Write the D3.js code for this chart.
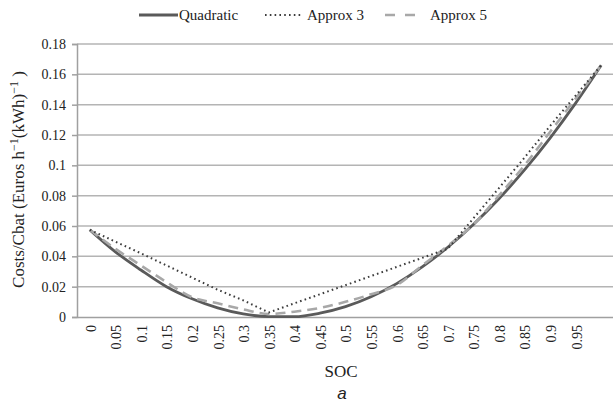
<!DOCTYPE html>
<html>
<head>
<meta charset="utf-8">
<script src="https://cdn.jsdelivr.net/npm/d3@7"></script>
<style>
  html, body { margin: 0; padding: 0; background: #fff; }
  svg { display: block; }
</style>
</head>
<body>
<svg id="chart" width="613" height="405"></svg>
<script>
// SOC categories (last one has no printed label)
const soc = [0, 0.05, 0.1, 0.15, 0.2, 0.25, 0.3, 0.35, 0.4, 0.45, 0.5,
  0.55, 0.6, 0.65, 0.7, 0.75, 0.8, 0.85, 0.9, 0.95, 1];
const socLabels = ["0", "0.05", "0.1", "0.15", "0.2", "0.25", "0.3", "0.35", "0.4", "0.45", "0.5",
  "0.55", "0.6", "0.65", "0.7", "0.75", "0.8", "0.85", "0.9", "0.95", ""];

const quadratic = [0.0575, 0.043, 0.031, 0.020, 0.012, 0.006, 0.002, 0.0003, 0.0002, 0.0025, 0.0068,
  0.0133, 0.0220, 0.033, 0.046, 0.061, 0.078, 0.097, 0.118, 0.141, 0.166];
const approx3 = [0.0575, 0.0497, 0.042, 0.034, 0.026, 0.018, 0.011, 0.003, 0.009, 0.015, 0.021,
  0.027, 0.033, 0.039, 0.045, 0.065, 0.085, 0.105, 0.126, 0.146, 0.166];
const approx5 = [0.0575, 0.045, 0.034, 0.023, 0.013, 0.009, 0.005, 0.002, 0.0035, 0.006, 0.010,
  0.015, 0.021, 0.034, 0.047, 0.061, 0.080, 0.100, 0.122, 0.144, 0.166];

const yTicks = [0, 0.02, 0.04, 0.06, 0.08, 0.1, 0.12, 0.14, 0.16, 0.18];

const series = [
  {name: "Quadratic", values: quadratic, color: "#5a5a5a", width: 2.8, dash: null, curve: d3.curveMonotoneX},
  {name: "Approx 3", values: approx3, color: "#3c3c3c", width: 2, dash: "1.6,3.2", curve: d3.curveLinear},
  {name: "Approx 5", values: approx5, color: "#a8a8a8", width: 2.6, dash: "10,6", curve: d3.curveMonotoneX}
];

const svg = d3.select("#chart");
const margin = {left: 77, right: 0, top: 44, bottom: 88};
const width = 614 - margin.left;
const height = 317 - margin.top;

const x = d3.scaleBand().domain(soc).range([margin.left, margin.left + width]);
const y = d3.scaleLinear().domain([0, 0.18]).range([margin.top + height, margin.top]);
const cx = d => x(d) + x.bandwidth() / 2;

const serif = "'Liberation Serif', 'Times New Roman', serif";

// gridlines
svg.append("g")
  .selectAll("line")
  .data(yTicks.slice(1))
  .join("line")
  .attr("x1", margin.left)
  .attr("x2", margin.left + width)
  .attr("y1", d => y(d))
  .attr("y2", d => y(d))
  .attr("stroke", "#b4b4b4")
  .attr("stroke-width", 1.5);

// y axis
const yAxis = svg.append("g")
  .attr("transform", `translate(${margin.left},0)`)
  .call(d3.axisLeft(y).tickValues(yTicks).tickSize(5).tickPadding(6).tickFormat(d3.format("~g")));
yAxis.select(".domain").attr("stroke", "#a0a0a0").attr("stroke-width", 1.5);
yAxis.selectAll(".tick line").attr("stroke", "#a0a0a0").attr("stroke-width", 1.5);
yAxis.selectAll("text").attr("font-family", serif).attr("font-size", 14).attr("fill", "#222");

// x axis
const xAxis = svg.append("g")
  .attr("transform", `translate(0,${margin.top + height})`)
  .call(d3.axisBottom(x).tickSize(0).tickFormat((d, i) => socLabels[i]));
xAxis.select(".domain").attr("stroke", "#a0a0a0").attr("stroke-width", 1.5);
xAxis.selectAll("text")
  .attr("font-family", serif)
  .attr("font-size", 14)
  .attr("fill", "#222")
  .attr("text-anchor", "end")
  .attr("dy", "0.35em")
  .attr("transform", "translate(1,8) rotate(-90)")
  .attr("x", 0)
  .attr("y", 0);

// lines
svg.append("g")
  .selectAll("path")
  .data([series[0], series[2], series[1]])
  .join("path")
  .attr("d", d => d3.line().curve(d.curve).x((v, i) => cx(soc[i])).y(v => y(v))(d.values))
  .attr("fill", "none")
  .attr("stroke", d => d.color)
  .attr("stroke-width", d => d.width)
  .attr("stroke-dasharray", d => d.dash);

// axis titles
svg.append("text")
  .attr("x", 341)
  .attr("y", 377)
  .attr("text-anchor", "middle")
  .attr("font-family", serif)
  .attr("font-size", 17)
  .attr("fill", "#222")
  .text("SOC");

svg.append("text")
  .attr("transform", `translate(24,${margin.top + height / 2 - 1}) rotate(-90)`)
  .attr("text-anchor", "middle")
  .attr("font-family", serif)
  .attr("font-size", 17)
  .attr("fill", "#222")
  .html("Costs/Cbat (Euros h<tspan dy='-6' font-size='12'>−1</tspan><tspan dy='6'>(kWh)</tspan><tspan dy='-6' font-size='12'>−1</tspan><tspan dy='6'> )</tspan>");

svg.append("text")
  .attr("x", 342)
  .attr("y", 399)
  .attr("text-anchor", "middle")
  .attr("font-family", "'Liberation Sans', Arial, sans-serif")
  .attr("font-style", "italic")
  .attr("font-size", 17)
  .attr("fill", "#222")
  .text("a");

// legend
const legendPos = [139, 265, 385];
const legendLen = [39, 36, 30];
const legendGap = [1, 6, 15];
const legend = svg.append("g")
  .selectAll("g")
  .data(series)
  .join("g")
  .attr("transform", (d, i) => `translate(${legendPos[i]},15)`);
legend.append("line")
  .attr("x1", 0)
  .attr("x2", (d, i) => legendLen[i])
  .attr("y1", 0)
  .attr("y2", 0)
  .attr("stroke", d => d.color)
  .attr("stroke-width", d => d.width)
  .attr("stroke-dasharray", (d, i) => i === 2 ? "10,10" : d.dash);
legend.append("text")
  .attr("x", (d, i) => legendLen[i] + legendGap[i])
  .attr("y", 5)
  .attr("font-family", serif)
  .attr("font-size", 15)
  .attr("fill", "#222")
  .text(d => d.name);
</script>
</body>
</html>
